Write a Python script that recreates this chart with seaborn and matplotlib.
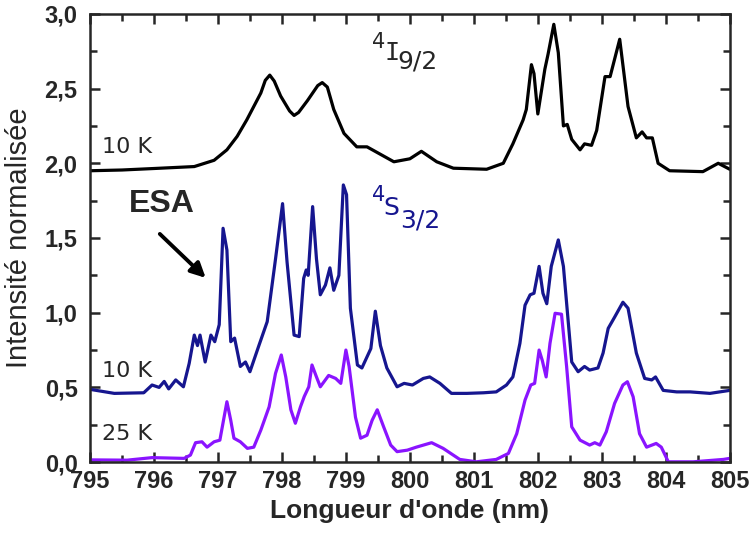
import numpy as np
import pandas as pd
import seaborn as sns
import matplotlib
matplotlib.use("Agg")
import matplotlib.pyplot as plt
from matplotlib.ticker import MultipleLocator, FuncFormatter
# --------------------------------------------------------------------------------------------------
# Spectra (wavelength in nm, normalised intensity)
bk_x = [795.0, 795.5, 796.0, 796.63, 796.94, 797.14, 797.30, 797.45, 797.67, 797.74,
        797.81, 797.88, 797.98, 798.12, 798.19, 798.26, 798.40, 798.56, 798.63, 798.71,
        798.81, 798.97, 799.17, 799.33, 799.54, 799.75, 800.0, 800.18, 800.42, 800.68,
        801.20, 801.46, 801.61, 801.77, 801.82, 801.90, 801.94, 802.00, 802.11, 802.16,
        802.25, 802.32, 802.40, 802.46, 802.53, 802.66, 802.73, 802.84, 802.92, 803.05,
        803.13, 803.28, 803.41, 803.54, 803.63, 803.70, 803.79, 803.88, 804.06, 804.58,
        804.82, 805.0]
bk_y = [1.95, 1.955, 1.965, 1.978, 2.02, 2.09, 2.18, 2.29, 2.47, 2.555,
        2.59, 2.55, 2.45, 2.35, 2.32, 2.34, 2.42, 2.52, 2.54, 2.51,
        2.36, 2.20, 2.11, 2.11, 2.06, 2.01, 2.03, 2.08, 2.01, 1.967,
        1.96, 2.00, 2.13, 2.29, 2.36, 2.66, 2.60, 2.33, 2.63, 2.73,
        2.93, 2.74, 2.25, 2.26, 2.16, 2.09, 2.13, 2.12, 2.22, 2.58,
        2.58, 2.83, 2.38, 2.17, 2.21, 2.17, 2.17, 2.00, 1.95, 1.944,
        2.00, 1.96]

bl_x = [795.0, 795.38, 795.84, 795.97, 796.08, 796.16, 796.23, 796.34, 796.46, 796.55,
        796.63, 796.68, 796.72, 796.80, 796.89, 796.95, 797.02, 797.08, 797.14, 797.20,
        797.26, 797.35, 797.43, 797.50, 797.64, 797.77, 797.90, 798.01, 798.08, 798.19,
        798.27, 798.34, 798.38, 798.41, 798.48, 798.54, 798.60, 798.68, 798.75, 798.81,
        798.89, 798.96, 799.01, 799.07, 799.18, 799.25, 799.39, 799.46, 799.54, 799.64,
        799.80, 799.91, 800.04, 800.21, 800.31, 800.47, 800.65, 800.89, 801.15, 801.35,
        801.51, 801.61, 801.72, 801.80, 801.88, 801.94, 802.02, 802.08, 802.14, 802.21,
        802.32, 802.40, 802.53, 802.63, 802.73, 802.81, 802.94, 803.02, 803.10, 803.20,
        803.33, 803.41, 803.54, 803.67, 803.78, 803.84, 803.96, 804.17, 804.38, 804.69,
        805.0]
bl_y = [0.487, 0.46, 0.464, 0.516, 0.50, 0.54, 0.49, 0.55, 0.504, 0.66,
        0.85, 0.78, 0.85, 0.67, 0.85, 0.806, 0.92, 1.565, 1.42, 0.806,
        0.83, 0.64, 0.67, 0.605, 0.78, 0.94, 1.36, 1.73, 1.34, 0.85,
        0.84, 1.23, 1.286, 1.25, 1.71, 1.36, 1.12, 1.185, 1.30, 1.15,
        1.25, 1.855, 1.79, 1.03, 0.65, 0.63, 0.76, 1.01, 0.78, 0.63,
        0.504, 0.527, 0.516, 0.56, 0.57, 0.527, 0.46, 0.46, 0.464, 0.47,
        0.516, 0.57, 0.795, 1.05, 1.12, 1.13, 1.31, 1.13, 1.06, 1.31,
        1.487, 1.31, 0.67, 0.605, 0.64, 0.616, 0.63, 0.73, 0.895, 0.97,
        1.07, 1.03, 0.73, 0.56, 0.55, 0.57, 0.48, 0.47, 0.47, 0.46,
        0.48]

pu_x = [795.0, 795.58, 795.97, 796.47, 796.57, 796.65, 796.75, 796.83, 796.94, 797.03,
        797.14, 797.20, 797.25, 797.35, 797.46, 797.56, 797.67, 797.80, 797.90, 797.99,
        798.06, 798.14, 798.21, 798.29, 798.35, 798.42, 798.47, 798.54, 798.60, 798.73,
        798.84, 798.92, 799.00, 799.05, 799.15, 799.23, 799.33, 799.41, 799.49, 799.59,
        799.70, 799.80, 799.96, 800.10, 800.34, 800.52, 800.78, 801.04, 801.35, 801.54,
        801.67, 801.80, 801.89, 801.95, 802.02, 802.07, 802.13, 802.19, 802.27, 802.37,
        802.45, 802.53, 802.66, 802.81, 802.89, 802.97, 803.07, 803.20, 803.33, 803.40,
        803.49, 803.59, 803.70, 803.85, 803.93, 804.04, 804.43, 804.90, 805.0]
pu_y = [0.015, 0.013, 0.03, 0.025, 0.047, 0.13, 0.136, 0.10, 0.136, 0.147,
        0.404, 0.28, 0.16, 0.136, 0.092, 0.10, 0.214, 0.37, 0.594, 0.717,
        0.57, 0.35, 0.26, 0.37, 0.44, 0.504, 0.65, 0.57, 0.504, 0.58,
        0.56, 0.527, 0.75, 0.64, 0.30, 0.16, 0.18, 0.28, 0.35, 0.236,
        0.114, 0.07, 0.08, 0.10, 0.13, 0.092, 0.018, 0.002, 0.018, 0.058,
        0.19, 0.415, 0.516, 0.527, 0.75, 0.68, 0.57, 0.795, 0.996, 0.99,
        0.64, 0.236, 0.147, 0.114, 0.13, 0.114, 0.203, 0.393, 0.516, 0.538,
        0.437, 0.19, 0.10, 0.125, 0.10, 0.002, 0.002, 0.018, 0.025]
# --------------------------------------------------------------------------------------------------
# Style
sns.set_style("ticks")
plt.rcParams["font.family"] = ["DejaVu Sans"]
label_font = ["Liberation Sans"]
navy = "#16168f"
violet = "#8a14ff"

fig = plt.figure(figsize=(7.5, 5.33), dpi=100)
ax = fig.add_axes([0.12, 0.133, 0.853, 0.841])

sns.lineplot(x=bk_x, y=bk_y, color="black", lw=2.3, ax=ax)
sns.lineplot(x=bl_x, y=bl_y, color=navy, lw=2.3, ax=ax)
sns.lineplot(x=pu_x, y=pu_y, color=violet, lw=2.3, ax=ax)
# --------------------------------------------------------------------------------------------------
# Axes, ticks
ax.set_xlim(795, 805)
ax.set_ylim(0, 3.0)
ax.xaxis.set_major_locator(MultipleLocator(1))
ax.xaxis.set_minor_locator(MultipleLocator(0.5))
ax.yaxis.set_major_locator(MultipleLocator(0.5))
ax.yaxis.set_minor_locator(MultipleLocator(0.25))
ax.yaxis.set_major_formatter(FuncFormatter(lambda v, p: f"{v:.1f}".replace(".", ",")))
ax.tick_params(which="both", direction="in", top=True, right=True, width=1.8)
ax.tick_params(which="major", length=7)
ax.tick_params(which="minor", length=5)
ax.tick_params(axis="x", which="major", pad=6)
ax.tick_params(axis="y", which="major", pad=9)
for s in ax.spines.values():
    s.set_linewidth(1.8)
for lab in ax.get_xticklabels() + ax.get_yticklabels():
    lab.set_family(label_font)
    lab.set_fontweight("bold")
    lab.set_fontsize(17)

ax.set_xlabel("Longueur d'onde (nm)", family=label_font, fontweight="bold", fontsize=19, labelpad=4)
ax.set_ylabel("Intensité normalisée", family=label_font, fontsize=21, labelpad=8)
# --------------------------------------------------------------------------------------------------
# Annotations
ax.text(795.18, 2.11, "10 K", fontsize=16, va="center", ha="left")
ax.text(795.18, 0.61, "10 K", fontsize=16, va="center", ha="left")
ax.text(795.18, 0.19, "25 K", fontsize=16, va="center", ha="left")

ax.text(799.41, 2.81, "4", fontsize=15, va="center", ha="left")
ax.text(799.60, 2.74, "I", fontsize=18, family=["DejaVu Sans Mono"], va="center", ha="left")
ax.text(799.80, 2.68, "9/2", fontsize=18, va="center", ha="left")

ax.text(799.41, 1.79, "4", fontsize=15, va="center", ha="left", color=navy)
ax.text(799.58, 1.70, "S", fontsize=18, va="center", ha="left", color=navy)
ax.text(799.84, 1.62, "3/2", fontsize=18, va="center", ha="left", color=navy)

ax.text(795.6, 1.73, "ESA", fontsize=23, fontweight="bold", family=label_font, va="center", ha="left")
ax.annotate("", xy=(796.84, 1.22), xytext=(796.06, 1.54),
            arrowprops=dict(arrowstyle="-|>", color="black", lw=2.8, mutation_scale=22))

fig.savefig("out.png", dpi=100)
